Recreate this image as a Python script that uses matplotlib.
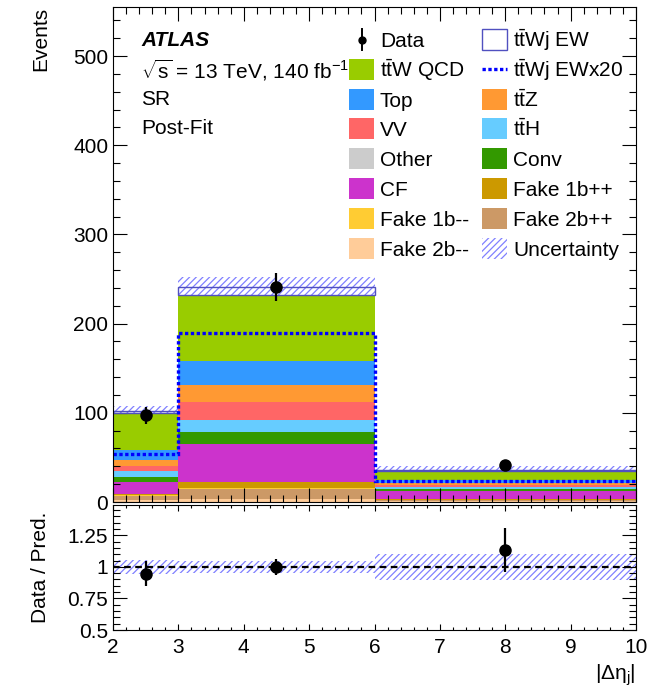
import numpy as np
import matplotlib
matplotlib.use('Agg')
import matplotlib.pyplot as plt
from matplotlib.patches import Rectangle
from matplotlib.lines import Line2D
from matplotlib.ticker import MultipleLocator, FixedLocator, FixedFormatter, NullFormatter

plt.rcParams['font.family'] = ['Liberation Sans', 'DejaVu Sans']
plt.rcParams['mathtext.fontset'] = 'custom'
plt.rcParams['mathtext.rm'] = 'Liberation Sans'
plt.rcParams['mathtext.it'] = 'Liberation Sans:italic'
plt.rcParams['mathtext.bf'] = 'Liberation Sans:bold'
plt.rcParams['hatch.linewidth'] = 0.9

# bin edges in |delta eta_j|
edges = [2, 3, 6, 10]

# stacked predictions (bottom to top)
fake_2b_minus = [2.0, 3.7, 1.5]
fake_2b_plus = [4.8, 10.6, 1.0]
fake_1b_minus = [0.5, 1.8, 0.3]
fake_1b_plus = [2.2, 6.4, 0.8]
cf = [12.4, 42.3, 8.5]
other = [0.3, 0.5, 0.3]
conv = [5.3, 13.1, 2.0]
tth = [6.7, 13.9, 2.6]
vv = [6.7, 19.8, 2.0]
ttz = [6.5, 19.5, 2.0]
top = [11.3, 26.2, 3.5]
ttw_qcd = [41.0, 74.0, 10.5]
ttwj_ew = [2.7, 9.5, 1.2]

data = [97, 241, 41]
data_err = [10, 15.5, 6.4]
unc = [5.5, 11.5, 3.8]

TTW = r't$\bar{\mathrm{t}}$W QCD'
TTZ = r't$\bar{\mathrm{t}}$Z'
TTH = r't$\bar{\mathrm{t}}$H'
stack = [
    ('Fake 2b--', fake_2b_minus, '#ffcc99'),
    ('Fake 2b++', fake_2b_plus, '#cc9966'),
    ('Fake 1b--', fake_1b_minus, '#ffcc33'),
    ('Fake 1b++', fake_1b_plus, '#cc9900'),
    ('CF', cf, '#cc33cc'),
    ('Other', other, '#cccccc'),
    ('Conv', conv, '#339900'),
    (TTH, tth, '#66ccff'),
    ('VV', vv, '#ff6666'),
    (TTZ, ttz, '#ff9933'),
    ('Top', top, '#3399ff'),
    (TTW, ttw_qcd, '#99cc00'),
]
colors = {lab: c for lab, _, c in stack}
ew_edge = '#5050c0'
ewx20_col = '#0000ff'
unc_col = '#8080ff'
HATCH = '/////'

edges = np.array(edges, dtype=float)
widths = np.diff(edges)
centers = edges[:-1] + widths / 2

fig = plt.figure(figsize=(6.54, 6.96), dpi=100)
W, H = 654, 696
ax = fig.add_axes([113 / W, 1 - 502 / H, 523 / W, 495 / H])
rax = fig.add_axes([113 / W, 1 - 630 / H, 523 / W, 125 / H])

bottom = np.zeros(3)
for lab, vals, col in stack:
    ax.stairs(bottom + np.array(vals), edges, baseline=bottom.copy(), fill=True,
              color=col, lw=0, zorder=1)
    bottom = bottom + np.array(vals)

ew = np.array(ttwj_ew)
total = bottom + ew
unc = np.array(unc)

# uncertainty band (behind the stack, visible above it)
ax.bar(edges[:-1], 2 * unc, width=widths, bottom=total - unc, align='edge',
       facecolor='none', edgecolor=unc_col, hatch=HATCH, lw=0, zorder=0.8)
# ttWj EW as empty box on top of stack
ax.bar(edges[:-1], ew, width=widths, bottom=bottom, align='edge',
       fill=False, edgecolor=ew_edge, lw=1.0, zorder=2)
# ttWj EW x20 dotted
ax.stairs(ew * 20, edges, baseline=None, color=ewx20_col, lw=2.4,
          ls=(0, (1, 0.75)), zorder=2.2)

ax.errorbar(centers, data, yerr=data_err, fmt='o', color='black', ms=8,
            elinewidth=1.6, capsize=0, zorder=4)

ax.set_xlim(2, 10)
ax.set_ylim(0, 555)
ax.set_ylabel('Events', fontsize=15, loc='top')
ax.yaxis.set_label_coords(-0.12, 1.0)

# ratio panel
ratio = np.array(data) / total
ratio_err = np.array(data_err) / total
rel_unc = unc / total
rax.bar(edges[:-1], 2 * rel_unc, width=widths, bottom=1 - rel_unc, align='edge',
        facecolor='none', edgecolor=unc_col, hatch=HATCH, lw=0, zorder=1)
rax.axhline(1.0, color='black', ls=(0, (3, 2)), lw=1.6, zorder=2)
rax.errorbar(centers, ratio, yerr=ratio_err, fmt='o', color='black', ms=8,
             elinewidth=1.6, capsize=0, zorder=4)
rax.set_xlim(2, 10)
rax.set_ylim(0.5, 1.49)
rax.set_ylabel('Data / Pred.', fontsize=15)
rax.yaxis.set_label_coords(-0.12, 0.5)
rax.set_xlabel(r'$|\mathrm{\Delta\eta}_{\mathrm{j}}|$', fontsize=15, loc='right')

# ROOT-like ticks
for a in (ax, rax):
    a.xaxis.set_major_locator(MultipleLocator(1))
    a.xaxis.set_minor_locator(MultipleLocator(0.2))
    a.tick_params(which='both', direction='in', top=True, right=True,
                  labelsize=15, width=0.8)
ax.yaxis.set_major_locator(MultipleLocator(100))
ax.yaxis.set_minor_locator(MultipleLocator(20))
ax.tick_params(which='major', length=10)
ax.tick_params(which='minor', length=5)
ax.xaxis.set_major_formatter(NullFormatter())
rax.yaxis.set_major_locator(FixedLocator([0.5, 0.75, 1.0, 1.25]))
rax.yaxis.set_major_formatter(FixedFormatter(['0.5', '0.75', '1', '1.25']))
rax.yaxis.set_minor_locator(MultipleLocator(0.05))
rax.tick_params(axis='y', which='major', length=10)
rax.tick_params(axis='y', which='minor', length=5)
rax.tick_params(axis='x', which='major', length=4, pad=6)
rax.tick_params(axis='x', which='minor', length=2)

# labels
fig.text(141 / W, 1 - 40 / H, 'ATLAS', fontsize=15, fontweight='bold',
         style='italic', va='center')
fig.text(141 / W, 1 - 70 / H, r'$\sqrt{\mathrm{s}}$ = 13 TeV, 140 fb$^{\mathrm{-1}}$',
         fontsize=15, va='center')
fig.text(141 / W, 1 - 99.5 / H, 'SR', fontsize=15, va='center')
fig.text(141 / W, 1 - 129 / H, 'Post-Fit', fontsize=15, va='center')

# legend, drawn by hand in figure pixels (ROOT TLegend layout)
col1 = ['Data', TTW, 'Top', 'VV', 'Other', 'CF', 'Fake 1b--', 'Fake 2b--']
col2 = [r't$\bar{\mathrm{t}}$Wj EW', r't$\bar{\mathrm{t}}$Wj EWx20', TTZ, TTH,
        'Conv', 'Fake 1b++', 'Fake 2b++', 'Uncertainty']


def px(x, y):
    return x / W, 1 - y / H


def legend_entry(x0, yc, label):
    bw, bh = 25, 21
    if label == 'Data':
        fig.add_artist(Line2D([px(x0 + bw / 2, 0)[0]] * 2,
                              [px(0, yc - bh / 2)[1], px(0, yc + bh / 2)[1]],
                              color='black', lw=1.4, transform=fig.transFigure))
        fig.add_artist(Line2D([px(x0 + bw / 2, 0)[0]], [px(0, yc)[1]], marker='o',
                              ms=5, color='black', transform=fig.transFigure))
    elif 'EWx20' in label:
        fig.add_artist(Line2D([px(x0, 0)[0], px(x0 + bw, 0)[0]], [px(0, yc)[1]] * 2,
                              color=ewx20_col, lw=2.4, ls=(0, (1, 0.75)),
                              transform=fig.transFigure))
    else:
        x, y = px(x0, yc + bh / 2)
        if 'EW' in label:
            kw = dict(facecolor='white', edgecolor=ew_edge, lw=1.0)
        elif label == 'Uncertainty':
            kw = dict(facecolor='none', edgecolor=unc_col, hatch=HATCH, lw=0)
        else:
            kw = dict(facecolor=colors[label], lw=0)
        fig.add_artist(Rectangle((x, y), bw / W, bh / H, transform=fig.transFigure, **kw))
    tx, ty = px(x0 + 31, yc + 7.5)
    fig.text(tx, ty, label, fontsize=15, va='baseline', ha='left')


for i, (l1, l2) in enumerate(zip(col1, col2)):
    yc = 39.5 + 29.8 * i
    legend_entry(349, yc, l1)
    legend_entry(482, yc, l2)

fig.savefig('out.png', dpi=100)
